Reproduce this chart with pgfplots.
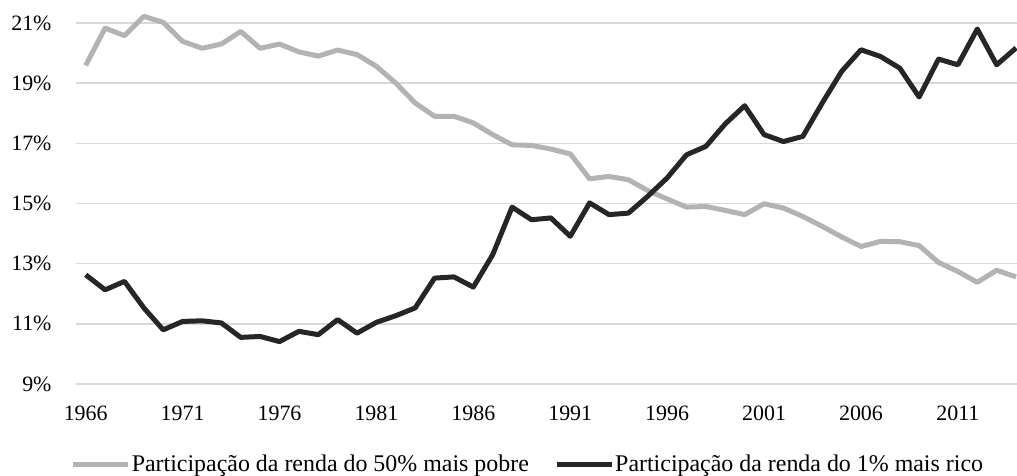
\documentclass[border=0pt]{standalone}
\usepackage{fontspec}
\setmainfont{Liberation Serif}
\usepackage{pgfplots}
\pgfplotsset{compat=1.18}
\definecolor{poor}{HTML}{B3B3B3}
\definecolor{rich}{HTML}{262626}
\definecolor{gridc}{HTML}{D9D9D9}
\begin{document}
\begin{tikzpicture}[font=\fontsize{22}{26}\selectfont]
\begin{axis}[
  name=ax,
  scale only axis,
  width=941bp, height=361bp,
  xmin=1965.5, xmax=2014.05,
  ymin=9, ymax=21,
  clip=false,
  axis line style={draw=none},
  tick style={draw=none},
  xtick={1966,1971,...,2011},
  ytick={9,11,...,21},
  xmajorgrids=false,
  ymajorgrids=true,
  grid style={draw=gridc, line width=1.5bp},
  /pgf/number format/assume math mode=true,
  xticklabel={\pgfmathprintnumber[1000 sep={}]{\tick}},
  yticklabel={\pgfmathprintnumber{\tick}\%},
  xticklabel style={anchor=base, inner sep=0pt, yshift=-36.7bp, font=\fontsize{22}{26}\selectfont},
  yticklabel style={anchor=east, inner sep=0pt, xshift=-24.3bp, font=\fontsize{22}{26}\selectfont},
  legend style={draw=none, fill=none, at={(-0.00553,-0.2216)}, anchor=west, legend columns=2,
    inner sep=0pt, outer sep=0pt,
    nodes={inner sep=0pt},
    /tikz/column sep=1bp,
    /tikz/every even column/.append style={column sep=25.4bp},
    font=\fontsize{24}{28}\selectfont},
  legend image code/.code={\draw[#1] (0bp,0bp) -- (55bp,0bp);},
  line join=round,
]
\addplot[poor, line width=5bp] coordinates {
(1966,19.59)(1967,20.83)(1968,20.58)(1969,21.22)(1970,21.02)(1971,20.39)(1972,20.16)(1973,20.30)(1974,20.72)(1975,20.16)
(1976,20.30)(1977,20.04)(1978,19.90)(1979,20.10)(1980,19.95)(1981,19.56)(1982,19.00)(1983,18.34)(1984,17.90)(1985,17.90)
(1986,17.68)(1987,17.29)(1988,16.95)(1989,16.93)(1990,16.81)(1991,16.65)(1992,15.82)(1993,15.90)(1994,15.79)(1995,15.43)
(1996,15.15)(1997,14.88)(1998,14.90)(1999,14.77)(2000,14.63)(2001,14.99)(2002,14.85)(2003,14.57)(2004,14.24)(2005,13.89)
(2006,13.57)(2007,13.74)(2008,13.73)(2009,13.60)(2010,13.04)(2011,12.74)(2012,12.38)(2013,12.78)(2014,12.56)
};
\addlegendentry{Participação da renda do 50\% mais pobre}
\addplot[rich, line width=5bp] coordinates {
(1966,12.63)(1967,12.13)(1968,12.41)(1969,11.53)(1970,10.80)(1971,11.08)(1972,11.10)(1973,11.03)(1974,10.55)(1975,10.58)
(1976,10.41)(1977,10.75)(1978,10.64)(1979,11.14)(1980,10.69)(1981,11.05)(1982,11.27)(1983,11.53)(1984,12.52)(1985,12.56)
(1986,12.22)(1987,13.30)(1988,14.88)(1989,14.46)(1990,14.52)(1991,13.91)(1992,15.02)(1993,14.63)(1994,14.68)(1995,15.24)
(1996,15.85)(1997,16.62)(1998,16.90)(1999,17.65)(2000,18.25)(2001,17.29)(2002,17.06)(2003,17.23)(2004,18.34)(2005,19.39)
(2006,20.11)(2007,19.89)(2008,19.50)(2009,18.54)(2010,19.80)(2011,19.61)(2012,20.80)(2013,19.61)(2014,20.17)
};
\addlegendentry{Participação da renda do 1\% mais rico}
\end{axis}
\pgfresetboundingbox
\path ([xshift=-76bp,yshift=-92bp]ax.south west) rectangle ([yshift=23bp]ax.north east);
\end{tikzpicture}
\end{document}
